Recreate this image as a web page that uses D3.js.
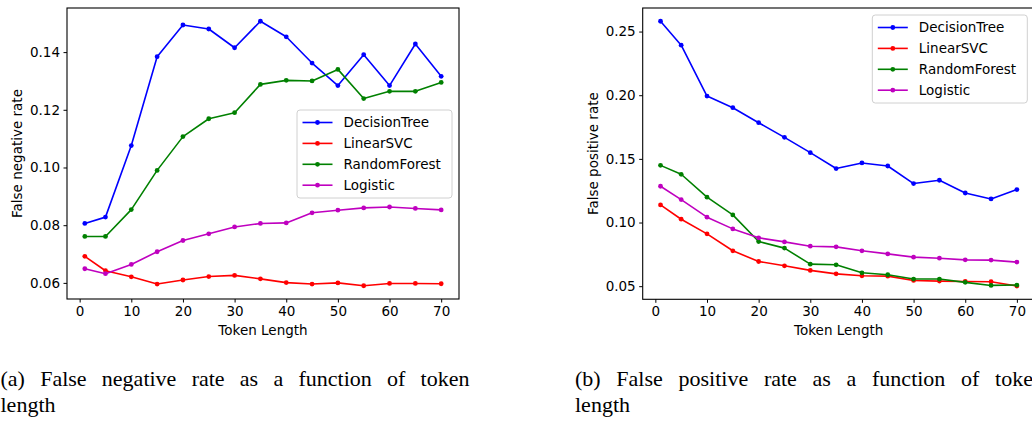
<!DOCTYPE html>
<html>
<head>
<meta charset="utf-8">
<script src="https://cdn.jsdelivr.net/npm/d3@7"></script>
<style>
  html, body { margin: 0; padding: 0; background: #ffffff; }
  svg { display: block; }
  .tick text { font-family: "DejaVu Sans", sans-serif; font-size: 13.5px; fill: #000; }
</style>
</head>
<body>
<svg id="chart" width="1032" height="424"></svg>
<script>
// ---------------- data ----------------
const tokenLengths = [1, 5, 10, 15, 20, 25, 30, 35, 40, 45, 50, 55, 60, 65, 70];
const seriesNames = ["DecisionTree", "LinearSVC", "RandomForest", "Logistic"];
const seriesColors = ["#0000ff", "#ff0000", "#008000", "#bf00bf"];

// (a) false negative rate
const fnrDecisionTree = [0.0806, 0.0828, 0.1076, 0.1384, 0.1494, 0.1480, 0.1415, 0.1507, 0.1453, 0.1362, 0.1284, 0.1391, 0.1284, 0.1428, 0.1316];
const fnrLinearSVC    = [0.0692, 0.0642, 0.0621, 0.0596, 0.0610, 0.0622, 0.0626, 0.0614, 0.0601, 0.0596, 0.0600, 0.0590, 0.0598, 0.0598, 0.0597];
const fnrRandomForest = [0.0761, 0.0761, 0.0854, 0.0990, 0.1107, 0.1169, 0.1190, 0.1288, 0.1302, 0.1300, 0.1340, 0.1239, 0.1264, 0.1264, 0.1295];
const fnrLogistic     = [0.0649, 0.0632, 0.0664, 0.0708, 0.0747, 0.0770, 0.0794, 0.0806, 0.0808, 0.0843, 0.0852, 0.0860, 0.0863, 0.0858, 0.0853];

// (b) false positive rate
const fprDecisionTree = [0.2581, 0.2393, 0.1993, 0.1902, 0.1784, 0.1669, 0.1549, 0.1424, 0.1468, 0.1444, 0.1306, 0.1332, 0.1232, 0.1185, 0.1259];
const fprLinearSVC    = [0.1138, 0.1026, 0.0911, 0.0778, 0.0694, 0.0660, 0.0624, 0.0597, 0.0582, 0.0579, 0.0545, 0.0540, 0.0537, 0.0535, 0.0501];
const fprRandomForest = [0.1449, 0.1379, 0.1199, 0.1060, 0.0851, 0.0799, 0.0673, 0.0668, 0.0605, 0.0590, 0.0556, 0.0556, 0.0530, 0.0506, 0.0509];
const fprLogistic     = [0.1285, 0.1180, 0.1042, 0.0950, 0.0880, 0.0848, 0.0814, 0.0809, 0.0778, 0.0754, 0.0728, 0.0720, 0.0707, 0.0705, 0.0689];

const xTicks = [0, 10, 20, 30, 40, 50, 60, 70];
const fnrTicks = [0.06, 0.08, 0.10, 0.12, 0.14];
const fprTicks = [0.05, 0.10, 0.15, 0.20, 0.25];

const xLabel = "Token Length";
const fnrLabel = "False negative rate";
const fprLabel = "False positive rate";
const captionA = ["(a)", "False", "negative", "rate", "as", "a", "function", "of", "token"];
const captionB = ["(b)", "False", "positive", "rate", "as", "a", "function", "of", "token"];
const captionLine2 = "length";

// ---------------- drawing ----------------
const svg = d3.select("#chart");
const FONT = "'DejaVu Sans', sans-serif";
const SERIF = "'Liberation Serif', 'Times New Roman', serif";

function drawPanel(opts) {
  const { left, right, top, bottom, series, yTicks, yFmt, yLabel, legend } = opts;
  const g = svg.append("g");
  const xMin = d3.min(tokenLengths), xMax = d3.max(tokenLengths);
  const xm = (xMax - xMin) * 0.05;
  const x = d3.scaleLinear().domain([xMin - xm, xMax + xm]).range([left, right]);
  const all = series.flat();
  const yMin = d3.min(all), yMax = d3.max(all);
  const ym = (yMax - yMin) * 0.05;
  const y = d3.scaleLinear().domain([yMin - ym, yMax + ym]).range([bottom, top]);

  // lines
  const line = d3.line().x((d, i) => x(tokenLengths[i])).y(d => y(d));
  series.forEach((s, k) => {
    g.append("path").datum(s)
      .attr("fill", "none").attr("stroke", seriesColors[k])
      .attr("stroke-width", 1.6).attr("stroke-linejoin", "round")
      .attr("d", line);
    g.selectAll(null).data(s).enter().append("circle")
      .attr("cx", (d, i) => x(tokenLengths[i])).attr("cy", d => y(d))
      .attr("r", 2.4).attr("fill", seriesColors[k]);
  });

  // axes
  const xa = g.append("g").attr("transform", `translate(0,${bottom})`)
    .call(d3.axisBottom(x).tickValues(xTicks).tickFormat(d3.format("d"))
      .tickSize(3.5).tickPadding(3.5).tickSizeOuter(0));
  const ya = g.append("g").attr("transform", `translate(${left},0)`)
    .call(d3.axisLeft(y).tickValues(yTicks).tickFormat(yFmt)
      .tickSize(3.5).tickPadding(3.5).tickSizeOuter(0));
  [xa, ya].forEach(a => {
    a.select(".domain").remove();
    a.selectAll(".tick line").attr("stroke", "#000").attr("stroke-width", 1);
  });

  // spines
  g.append("rect").attr("x", left).attr("y", top)
    .attr("width", right - left).attr("height", bottom - top)
    .attr("fill", "none").attr("stroke", "#000").attr("stroke-width", 1.1);

  // axis labels
  g.append("text").attr("x", (left + right) / 2).attr("y", bottom + 36)
    .attr("text-anchor", "middle").attr("font-family", FONT).attr("font-size", 13.5)
    .text(xLabel);
  g.append("text")
    .attr("transform", `translate(${left - 45},${(top + bottom) / 2}) rotate(-90)`)
    .attr("text-anchor", "middle").attr("font-family", FONT).attr("font-size", 13.5)
    .text(yLabel);

  // legend
  const lg = g.append("g");
  lg.append("rect").attr("x", legend.x).attr("y", legend.y)
    .attr("width", 155).attr("height", 88).attr("rx", 3)
    .attr("fill", "#ffffff").attr("fill-opacity", 0.8)
    .attr("stroke", "#d0d0d0").attr("stroke-width", 1);
  seriesNames.forEach((name, k) => {
    const cy = legend.y + 12.5 + k * 20.9;
    lg.append("line").attr("x1", legend.x + 5.5).attr("x2", legend.x + 35.5)
      .attr("y1", cy).attr("y2", cy)
      .attr("stroke", seriesColors[k]).attr("stroke-width", 1.6);
    lg.append("circle").attr("cx", legend.x + 20.5).attr("cy", cy).attr("r", 2.4)
      .attr("fill", seriesColors[k]);
    lg.append("text").attr("x", legend.x + 46.5).attr("y", cy + 4.9)
      .attr("font-family", FONT).attr("font-size", 13.5).text(name);
  });
}

drawPanel({
  left: 67, right: 459, top: 8, bottom: 299,
  series: [fnrDecisionTree, fnrLinearSVC, fnrRandomForest, fnrLogistic],
  yTicks: fnrTicks, yFmt: d3.format(".2f"), yLabel: fnrLabel,
  legend: { x: 297, y: 110 }
});
drawPanel({
  left: 642.7, right: 1034.7, top: 8, bottom: 299.3,
  series: [fprDecisionTree, fprLinearSVC, fprRandomForest, fprLogistic],
  yTicks: fprTicks, yFmt: d3.format(".2f"), yLabel: fprLabel,
  legend: { x: 872.3, y: 15 }
});

// captions (justified first line)
function caption(words, x0, width) {
  const g = svg.append("g");
  const nodes = words.map(w => g.append("text").attr("y", 386)
    .attr("font-family", SERIF).attr("font-size", 22).text(w));
  const widths = nodes.map(n => n.node().getComputedTextLength());
  const gap = (width - d3.sum(widths)) / (words.length - 1);
  let cx = x0;
  nodes.forEach((n, i) => { n.attr("x", cx); cx += widths[i] + gap; });
  g.append("text").attr("x", x0).attr("y", 412)
    .attr("font-family", SERIF).attr("font-size", 22).text(captionLine2);
}
caption(captionA, 0.5, 469);
caption(captionB, 575, 469);
</script>
</body>
</html>
